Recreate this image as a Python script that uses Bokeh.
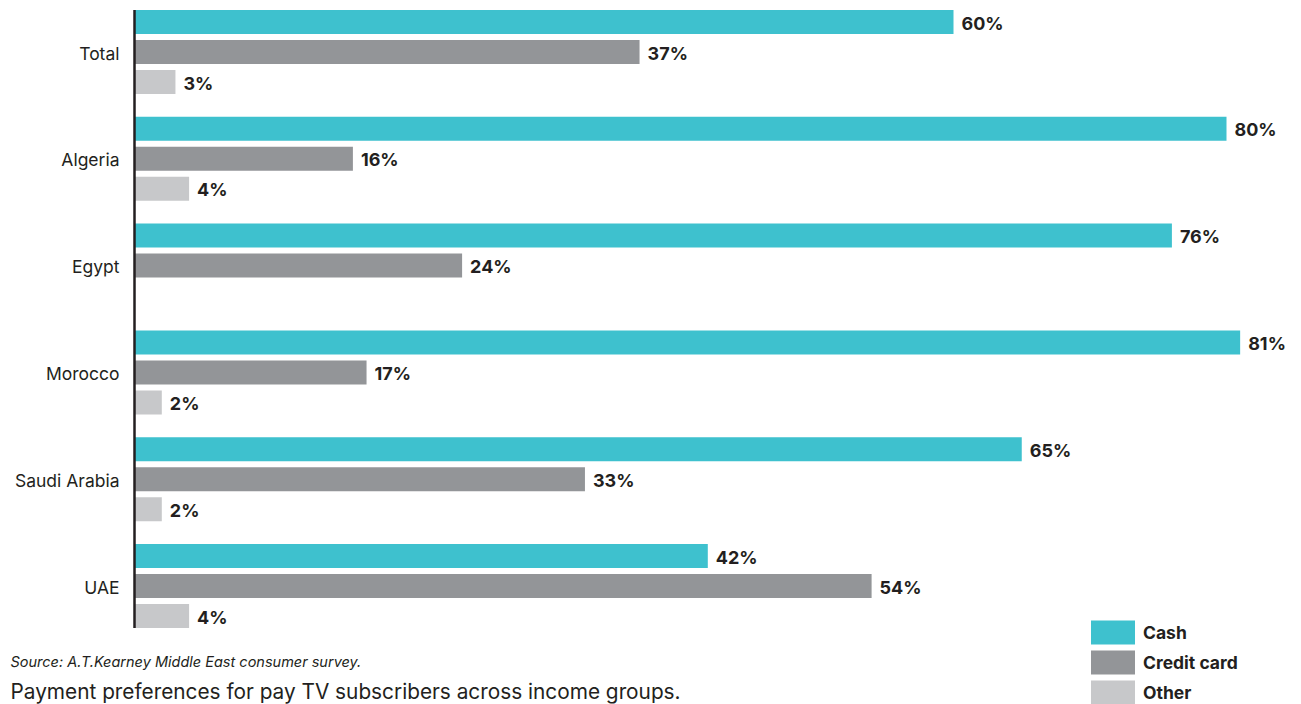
import math
from bokeh.plotting import figure
from bokeh.models import ColumnDataSource, Range1d, Label, Legend, LegendItem
from bokeh.core.properties import value
from bokeh.embed import file_html
from bokeh.resources import INLINE

# ---- data ----
countries = ["Total", "Algeria", "Egypt", "Morocco", "Saudi Arabia", "UAE"]
series = ["Cash", "Credit card", "Other"]
cash = [60, 80, 76, 81, 65, 42]
credit = [37, 16, 24, 17, 33, 54]
other = [3, 4, float("nan"), 2, 2, 4]
colors = ["#3EC1CE", "#939598", "#C7C8CA"]

source_text = "Source: A.T.Kearney Middle East consumer survey."
caption_text = "Payment preferences for pay TV subscribers across income groups."

# ---- layout constants ----
W, H = 1301, 704
PX_PER_PCT = 13.65
PITCH = 106.8          # px per category
FIRST_CENTER = 51.5    # px from top of frame to first category centre
AXIS_PX = 134          # px from canvas left to value 0
BAR_H = 24 / PITCH
OFFSET = 30 / PITCH
TXT = "#231F20"
FONT = "Inter"

y_top = -FIRST_CENTER / PITCH
y_bottom = y_top + H / PITCH
x_start = -AXIS_PX / PX_PER_PCT
x_end = x_start + W / PX_PER_PCT

p = figure(width=W, height=H, output_backend="svg", toolbar_location=None,
           x_range=Range1d(x_start, x_end), y_range=Range1d(y_bottom, y_top),
           min_border_left=0, min_border_right=0, min_border_top=0,
           min_border_bottom=0)
p.outline_line_color = None
p.grid.visible = False
p.xaxis.visible = False
p.yaxis.visible = False
p.background_fill_color = "white"
p.border_fill_color = "white"

# category labels (left of the axis line)
p.text(x=[0] * len(countries), y=list(range(len(countries))), text=countries,
       x_offset=-15, y_offset=1, text_align="right", text_baseline="middle",
       text_font=value(FONT), text_font_size="17.5px", text_color=TXT)

renderers = []
for k, (name, vals, col) in enumerate(zip(series, [cash, credit, other], colors)):
    ys = [i + (k - 1) * OFFSET for i in range(len(countries))]
    src = ColumnDataSource(dict(y=ys, v=vals))
    r = p.hbar(y="y", left=0, right="v", height=BAR_H, source=src,
               fill_color=col, line_color=None)
    renderers.append(r)
    lx = [v for v in vals if not math.isnan(v)]
    ly = [y for y, v in zip(ys, vals) if not math.isnan(v)]
    lt = [f"{v:g}%" for v in lx]
    p.text(x=lx, y=ly, text=lt, x_offset=8, y_offset=1, text_baseline="middle",
           text_align="left", text_font=value(FONT), text_font_style="bold",
           text_font_size="18px", text_color=TXT)

# axis line spanning the bars
half = OFFSET + BAR_H / 2
p.segment(x0=[0], y0=[-half], x1=[0], y1=[len(countries) - 1 + half],
          line_color=TXT, line_width=2.5)

legend = Legend(items=[LegendItem(label=s, renderers=[r]) for s, r in zip(series, renderers)],
                location=(1085, -3), orientation="vertical",
                glyph_width=55, glyph_height=30, spacing=0, padding=0, margin=0,
                label_standoff=3, border_line_color=None, background_fill_alpha=0,
                label_text_font=FONT, label_text_font_style="bold",
                label_text_font_size="17.5px", label_text_color=TXT)
p.add_layout(legend)

p.add_layout(Label(x=10, y=H - 661, x_units="screen", y_units="screen",
                   text=source_text, text_font=FONT, text_font_style="italic",
                   text_font_size="14.5px", text_color=TXT, text_baseline="middle"))
p.add_layout(Label(x=10, y=1, x_units="screen", y_units="screen",
                   text=caption_text, text_font=FONT, text_font_size="20.8px",
                   text_color=TXT, text_baseline="bottom"))

open("out.html", "w").write(file_html(p, INLINE))
